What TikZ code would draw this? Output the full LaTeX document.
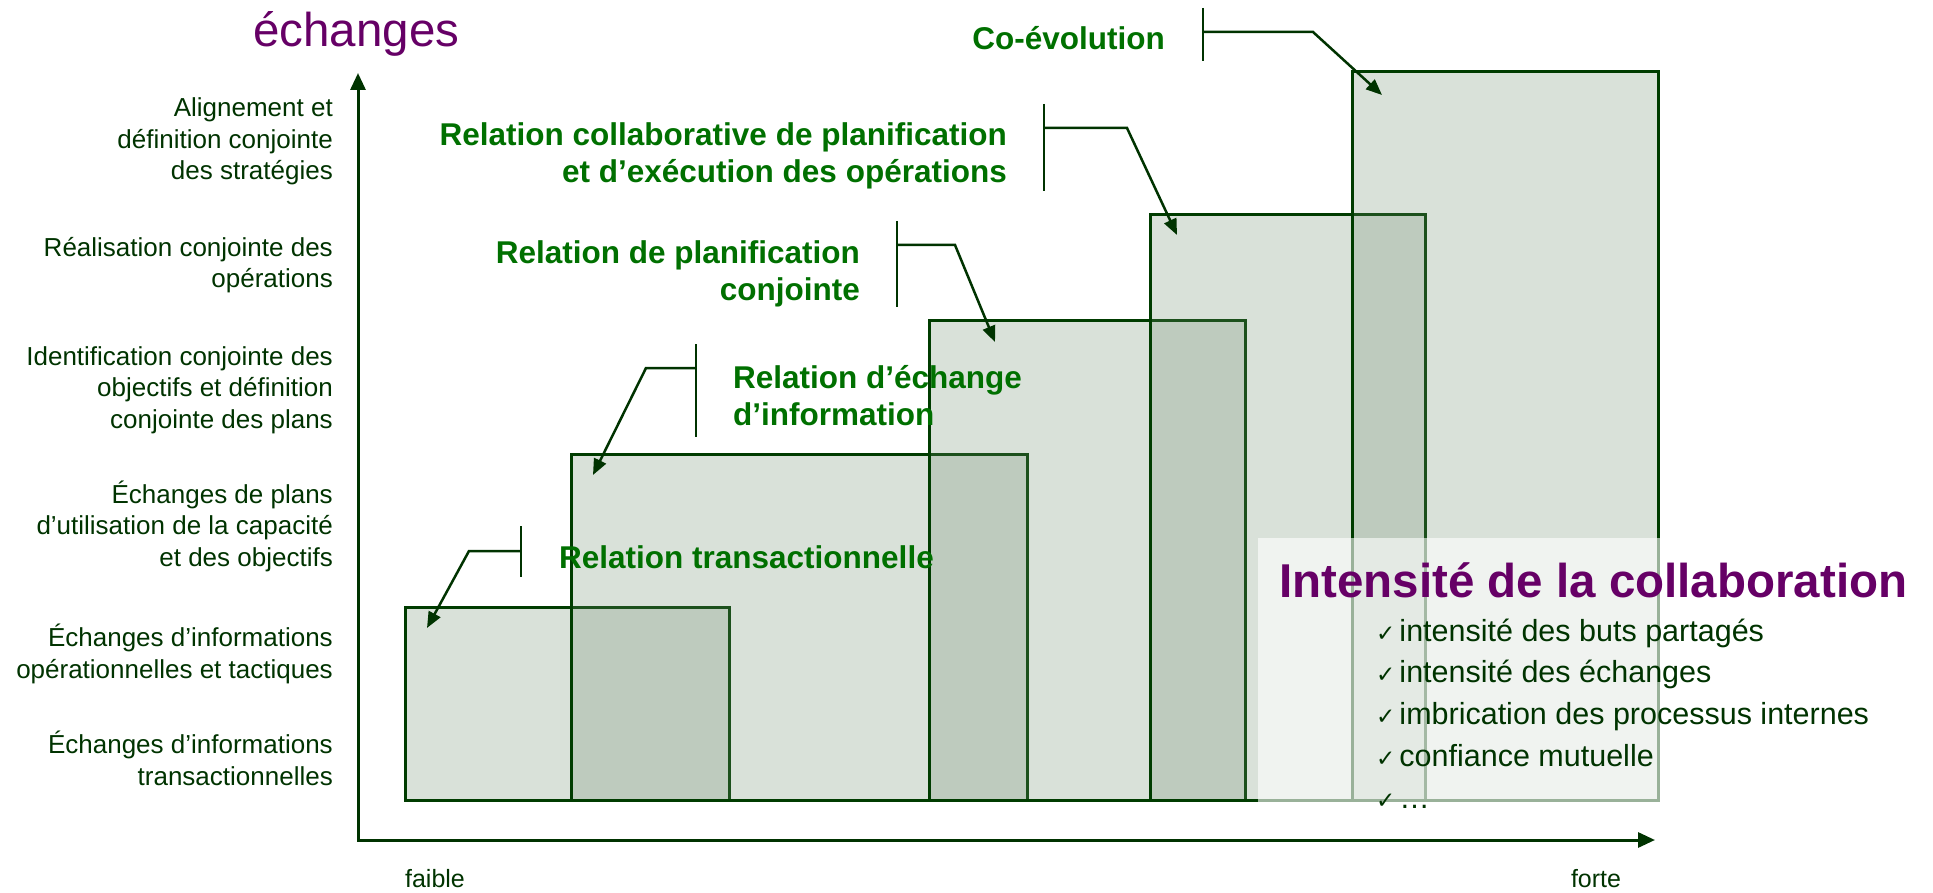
\documentclass[tikz,border=0pt]{standalone}
\usepackage{fontspec}
\setmainfont{Liberation Sans}
\newfontfamily\symfont{DejaVu Sans}
\usetikzlibrary{arrows.meta}
\definecolor{dkgreen}{RGB}{0,51,0}
\definecolor{lbgreen}{RGB}{0,112,0}
\definecolor{purp}{RGB}{102,0,102}
\definecolor{boxfill}{RGB}{110,140,110}
\definecolor{boxline}{RGB}{0,60,0}
\newcommand\ckmark{{\symfont\fontsize{23}{23}\selectfont ✓}\hspace{4pt}}
\begin{document}
\begin{tikzpicture}[x=1pt,y=-1pt,
  axis/.style={draw=dkgreen,line width=3pt,line join=miter,{Triangle[length=17pt,width=15pt]}-{Triangle[length=17pt,width=15pt]}},
  bar/.style={draw=boxline,line width=3pt,fill=boxfill,fill opacity=0.26},
  ylab/.style={anchor=base east,align=right,inner sep=0pt,text=dkgreen,font=\fontsize{26}{31.5}\selectfont},
  rel/.style={inner sep=0pt,text=lbgreen,font=\bfseries\fontsize{31.5}{37}\selectfont},
  brk/.style={draw=dkgreen,line width=2pt},
  lead/.style={draw=dkgreen,line width=2.5pt,-{Triangle[length=16pt,width=13pt]}},
]
\useasboundingbox (0,0) rectangle (1933,893);

% title of the vertical axis
\node[anchor=base west,inner sep=0pt,text=purp,font=\fontsize{47.5}{50}\selectfont] (ech) at (253,47) {échanges};

% levels on the vertical axis (anchor = baseline of last line)
\node[ylab] (l1) at (333,180) {Alignement et\\définition conjointe\\des stratégies};
\node[ylab] (l2) at (333,288) {Réalisation conjointe des\\opérations};
\node[ylab] (l3) at (333,428) {Identification conjointe des\\objectifs et définition\\conjointe des plans};
\node[ylab] (l4) at (333,566) {Échanges de plans\\d’utilisation de la capacité\\et des objectifs};
\node[ylab] (l5) at (333,678) {Échanges d’informations\\opérationnelles et tactiques};
\node[ylab] (l6) at (333,785) {Échanges d’informations\\transactionnelles};

% axes
\coordinate (O) at (358,840);
\coordinate (ytip) at (358,73);
\coordinate (xtip) at (1655,840);
\draw[axis] (ytip) -- (O) -- (xtip);

% bars
\draw[bar] (405,607) rectangle (729,800);
\draw[bar] (571,454) rectangle (1027,800);
\draw[bar] (929,321) rectangle (1245,800);
\draw[bar] (1150,215) rectangle (1425,800);
\draw[bar] (1352,72) rectangle (1658,800);

% Co-evolution
\node[rel,anchor=base east] (tco) at (1165,50) {Co-évolution};
\coordinate (coA) at (1203,8); \coordinate (coB) at (1203,61);
\coordinate (coH) at (1203,32); \coordinate (coK) at (1313,32); \coordinate (coT) at (1382,95);
\draw[brk] (coA) -- (coB);
\draw[lead] (coH) -- (coK) -- (coT);

% collaborative
\node[rel,anchor=base east,align=right] (tcol) at (1007,183) {Relation collaborative de planification\\et d’exécution des opérations};
\coordinate (caA) at (1044,104); \coordinate (caB) at (1044,191);
\coordinate (caH) at (1044,128); \coordinate (caK) at (1127,128); \coordinate (caT) at (1177,235);
\draw[brk] (caA) -- (caB);
\draw[lead] (caH) -- (caK) -- (caT);

% planification
\node[rel,anchor=base east,align=right] (tpl) at (860,301) {Relation de planification\\conjointe};
\coordinate (plA) at (897,221); \coordinate (plB) at (897,307);
\coordinate (plH) at (897,245); \coordinate (plK) at (955,245); \coordinate (plT) at (995,342);
\draw[brk] (plA) -- (plB);
\draw[lead] (plH) -- (plK) -- (plT);

% echange d'information
\node[rel,anchor=base west,align=left] (tei) at (733,425) {Relation d’échange\\d’information};
\coordinate (eiA) at (696,344); \coordinate (eiB) at (696,437);
\coordinate (eiH) at (696,368); \coordinate (eiK) at (646,368); \coordinate (eiT) at (593,475);
\draw[brk] (eiA) -- (eiB);
\draw[lead] (eiH) -- (eiK) -- (eiT);

% transactionnelle
\node[rel,anchor=base west] (ttr) at (559,568) {Relation transactionnelle};
\coordinate (trA) at (521,526); \coordinate (trB) at (521,577);
\coordinate (trH) at (521,551); \coordinate (trK) at (469,551); \coordinate (trT) at (427,628);
\draw[brk] (trA) -- (trB);
\draw[lead] (trH) -- (trK) -- (trT);

% legend box
\fill[white,fill opacity=0.6] (1258,538) rectangle (1933,815);
\node[anchor=base west,inner sep=0pt,text=purp,font=\bfseries\fontsize{47.5}{50}\selectfont] (int) at (1279,597) {Intensité de la collaboration};
\node[anchor=base west,align=left,inner sep=0pt,text=dkgreen,font=\fontsize{30.5}{41.7}\selectfont] (lst) at (1376,808)
 {\ckmark intensité des buts partagés\\\ckmark intensité des échanges\\\ckmark imbrication des processus internes\\\ckmark confiance mutuelle\\\ckmark …};

% horizontal axis ends
\node[anchor=base,inner sep=0pt,text=dkgreen,font=\fontsize{25}{30}\selectfont] (fa) at (435,887) {faible};
\node[anchor=base,inner sep=0pt,text=dkgreen,font=\fontsize{25}{30}\selectfont] (fo) at (1596,887) {forte};
\end{tikzpicture}
\end{document}
